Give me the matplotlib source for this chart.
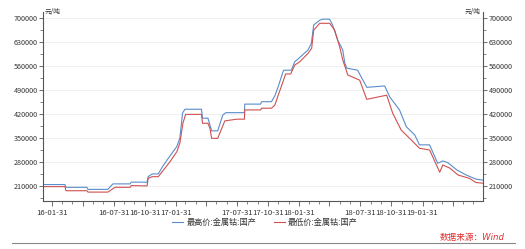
import matplotlib
matplotlib.use("Agg")
import matplotlib.pyplot as plt
import matplotlib.dates as mdates
from matplotlib.ticker import MultipleLocator, FixedLocator
import pandas as pd

plt.rcParams['font.family'] = ['Noto Sans CJK SC', 'DejaVu Sans']

# ---- data ----
high_dates = ["2016-01-04", "2016-03-09", "2016-03-12", "2016-05-13", "2016-05-16", "2016-07-14",
              "2016-07-29", "2016-09-18", "2016-09-21", "2016-11-07", "2016-11-10", "2016-11-22",
              "2016-12-10", "2016-12-22", "2016-12-30", "2017-01-14", "2017-02-03", "2017-02-12",
              "2017-02-20", "2017-02-27", "2017-04-17", "2017-04-20", "2017-05-06", "2017-05-09",
              "2017-05-17", "2017-06-04", "2017-06-19", "2017-06-28", "2017-07-31", "2017-08-22",
              "2017-08-23", "2017-10-09", "2017-10-12", "2017-11-10", "2017-11-20", "2017-11-30",
              "2017-12-14", "2017-12-16", "2018-01-08", "2018-01-18", "2018-01-27", "2018-02-26",
              "2018-03-08", "2018-03-15", "2018-04-02", "2018-04-11", "2018-05-01", "2018-05-10",
              "2018-05-25", "2018-06-09", "2018-06-15", "2018-06-21", "2018-07-23", "2018-08-19",
              "2018-10-11", "2018-10-26", "2018-11-24", "2018-12-14", "2019-01-08", "2019-01-22",
              "2019-02-21", "2019-03-17", "2019-04-01", "2019-04-16", "2019-05-12", "2019-06-09",
              "2019-07-08", "2019-07-28"]
high_values = [214000, 214000, 206000, 206000, 200000, 200000,
               216000, 216000, 221000, 221000, 237000, 245000,
               245000, 265000, 277000, 298000, 325000, 350000,
               423000, 434000, 434000, 408000, 408000, 398000,
               371000, 371000, 417000, 424000, 424000, 424000,
               449000, 449000, 456000, 456000, 473000, 500000,
               543000, 548000, 548000, 573000, 580000, 607000,
               626000, 680000, 694000, 697000, 697000, 680000,
               636000, 607000, 569000, 554000, 548000, 498000,
               502000, 470000, 432000, 383000, 359000, 330000,
               330000, 276000, 283000, 278000, 257000, 242000,
               230000, 227000]

low_dates = ["2016-01-04", "2016-03-09", "2016-03-12", "2016-05-13", "2016-05-16", "2016-07-14",
             "2016-08-04", "2016-09-18", "2016-09-21", "2016-11-07", "2016-11-10", "2016-11-22",
             "2016-12-10", "2016-12-30", "2017-01-14", "2017-02-03", "2017-02-12", "2017-02-21",
             "2017-03-01", "2017-04-17", "2017-04-20", "2017-05-06", "2017-05-12", "2017-05-17",
             "2017-06-04", "2017-06-25", "2017-07-31", "2017-08-22", "2017-08-23", "2017-10-09",
             "2017-10-12", "2017-11-10", "2017-11-20", "2017-11-30", "2017-12-14", "2017-12-22",
             "2018-01-06", "2018-01-18", "2018-02-02", "2018-02-26", "2018-03-09", "2018-03-15",
             "2018-04-02", "2018-05-01", "2018-05-16", "2018-05-31", "2018-06-09", "2018-06-24",
             "2018-07-29", "2018-08-19", "2018-09-03", "2018-10-17", "2018-11-04", "2018-11-29",
             "2018-12-29", "2019-01-22", "2019-02-21", "2019-03-23", "2019-04-01", "2019-04-22",
             "2019-05-16", "2019-06-19", "2019-07-08", "2019-07-28"]
low_values = [208000, 208000, 196000, 196000, 192000, 192000,
              206000, 206000, 211000, 210000, 232000, 237000,
              237000, 262000, 281000, 310000, 335000, 393000,
              419000, 419000, 393000, 393000, 378000, 349000,
              349000, 400000, 405000, 405000, 432000, 432000,
              437000, 437000, 446000, 475000, 514000, 537000,
              537000, 563000, 573000, 597000, 612000, 665000,
              685000, 685000, 665000, 616000, 578000, 534000,
              519000, 463000, 466000, 475000, 422000, 373000,
              344000, 320000, 315000, 250000, 271000, 262000,
              242000, 232000, 220000, 218000]

y_ticks = [210000, 280000, 350000, 420000, 490000, 560000, 630000, 700000]
x_tick_dates = ["2016-01-31", "2016-04-30", "2016-07-31", "2016-10-31", "2017-01-31", "2017-04-30",
                "2017-07-31", "2017-10-31", "2018-01-31", "2018-04-30", "2018-07-31", "2018-10-31",
                "2019-01-31", "2019-04-30", "2019-07-31"]
x_tick_labels = ["16-01-31", "", "16-07-31", "16-10-31", "17-01-31", "", "17-07-31", "17-10-31",
                 "18-01-31", "", "18-07-31", "18-10-31", "19-01-31", "", ""]
series_names = ["最高价:金属钴:国产", "最低价:金属钴:国产"]
unit_label = "元/吨"
source_text = "数据来源：Wind"

# ---- plot ----
W, H = 525, 249
fig = plt.figure(figsize=(W / 100, H / 100), dpi=100)
ax = fig.add_axes([43 / W, 1 - 201 / H, (483 - 43) / W, (201 - 12) / H])

hd = pd.to_datetime(high_dates)
ld = pd.to_datetime(low_dates)
blue = "#5a8ccc"
red = "#cf5050"
l1, = ax.plot(hd, high_values, color=blue, lw=0.8, label=series_names[0])
l2, = ax.plot(ld, low_values, color=red, lw=0.8, label=series_names[1])

ax.set_xlim(pd.Timestamp("2016-01-04"), pd.Timestamp("2019-07-29"))
ax.set_ylim(166000, 718000)

ax.set_yticks(y_ticks)
ax.set_yticklabels([str(v) for v in y_ticks])
ax.yaxis.set_minor_locator(MultipleLocator(35000))
ax.grid(axis='y', which='major', color='#eeeeee', lw=0.6)
ax.set_axisbelow(True)

xt = [mdates.date2num(pd.Timestamp(d)) for d in x_tick_dates]
ax.xaxis.set_major_locator(FixedLocator(xt))
ax.set_xticklabels(x_tick_labels)
ax.xaxis.set_minor_locator(FixedLocator(
    [mdates.date2num(d) for d in pd.date_range("2016-01-31", "2019-07-31", freq="ME")]))

spine_c = "#555555"
for s in ["left", "bottom", "right"]:
    ax.spines[s].set_color(spine_c)
    ax.spines[s].set_linewidth(0.8)
ax.spines["top"].set_visible(False)

ax.tick_params(axis='y', which='both', left=True, right=True, labelleft=True, labelright=True,
               direction='out', colors=spine_c, labelcolor='#333333', labelsize=5.2, pad=1)
ax.tick_params(axis='y', which='major', length=3, width=0.6)
ax.tick_params(axis='y', which='minor', length=2, width=0.5)
ax.tick_params(axis='x', which='major', length=3.5, width=0.6, colors=spine_c,
               labelcolor='#333333', labelsize=5.6, pad=2)
ax.tick_params(axis='x', which='minor', length=2, width=0.5, colors=spine_c)

fig.text(45 / W, 1 - 12 / H, unit_label, fontsize=4.8, color='#333333', ha='left', va='center')
fig.text(481 / W, 1 - 12 / H, unit_label, fontsize=4.8, color='#333333', ha='right', va='center')

fig.legend(handles=[l1, l2], labels=series_names, loc='center', bbox_to_anchor=(265 / W, 1 - 222 / H),
           ncol=2, frameon=False, fontsize=5.9, handlelength=1.3, handletextpad=0.4,
           columnspacing=2.2, borderaxespad=0, labelcolor='#333333')

fig.text(505 / W, 1 - 237 / H, source_text, fontsize=6.2, color='#e03030', style='italic',
         family=['DejaVu Sans', 'Noto Sans CJK SC'], ha='right', va='center')
fig.add_artist(plt.Line2D([12 / W, 515 / W], [1 - 242.5 / H, 1 - 242.5 / H], color='#888888',
                          lw=0.8, transform=fig.transFigure))

fig.savefig("out.png", dpi=100)
